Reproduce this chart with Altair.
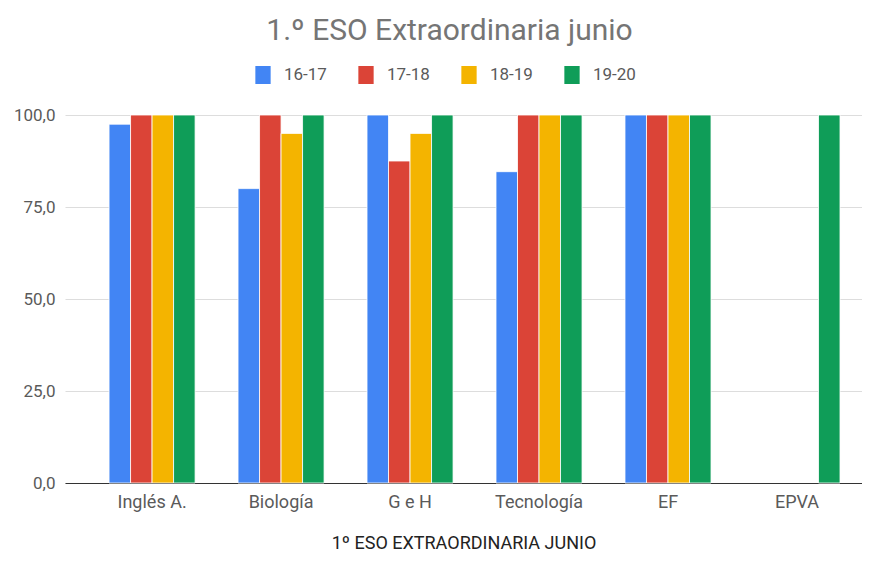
import altair as alt
import pandas as pd

categories = ["Inglés A.", "Biología", "G e H", "Tecnología", "EF", "EPVA"]
series = ["16-17", "17-18", "18-19", "19-20"]
v_16_17 = [97.5, 80.0, 100.0, 84.6, 100.0, None]
v_17_18 = [100.0, 100.0, 87.5, 100.0, 100.0, None]
v_18_19 = [100.0, 95.0, 95.0, 100.0, 100.0, None]
v_19_20 = [100.0, 100.0, 100.0, 100.0, 100.0, 100.0]
colors = ["#4285f4", "#db4437", "#f4b400", "#0f9d58"]

rows = []
for s, vals in zip(series, [v_16_17, v_17_18, v_18_19, v_19_20]):
    for c, v in zip(categories, vals):
        if v is not None:
            rows.append({"Asignatura": c, "Curso": s, "Valor": v})
df = pd.DataFrame(rows)

FONT = "Roboto"

chart = alt.Chart(df).mark_bar(stroke="white", strokeWidth=0.8).encode(
    x=alt.X("Asignatura:N", sort=categories,
            scale=alt.Scale(paddingInner=0.333, paddingOuter=0.256, align=0.667),
            axis=alt.Axis(title="1º ESO EXTRAORDINARIA JUNIO", labelAngle=0,
                          labelFontSize=18, labelColor="#5a5a5a", labelPadding=10,
                          titleFontSize=18, titleColor="#222222", titleFontWeight="normal",
                          titlePadding=23, ticks=False, domainColor="#333333",
                          domainWidth=1.2, grid=False)),
    xOffset=alt.XOffset("Curso:N", sort=series, scale=alt.Scale(paddingInner=0.0)),
    y=alt.Y("Valor:Q", scale=alt.Scale(domain=[0, 100], nice=False),
            axis=alt.Axis(title=None, values=[0, 25, 50, 75, 100],
                          labelExpr="replace(format(datum.value, '.1f'), '.', ',')",
                          labelFontSize=17, labelColor="#5a5a5a", labelPadding=10,
                          ticks=False, domain=False, gridColor="#dddddd", gridWidth=1)),
    color=alt.Color("Curso:N", sort=series,
                    scale=alt.Scale(domain=series, range=colors),
                    legend=alt.Legend(title=None, orient="none", direction="horizontal",
                                      legendX=189, legendY=-49,
                                      symbolType="M-0.85,-1H0.85V1H-0.85Z",
                                      symbolSize=324, symbolStrokeWidth=0,
                                      symbolOpacity=1,
                                      labelFontSize=17, labelColor="#5a5a5a",
                                      labelOffset=12, columnPadding=30)),
).properties(
    width=797, height=368,
    title=alt.TitleParams("1.º ESO Extraordinaria junio", fontSize=30, color="#757575",
                          font=FONT, fontWeight="normal", anchor="middle",
                          frame="group", dx=-14, offset=20),
    autosize=alt.AutoSizeParams(type="none"),
    padding={"left": 57, "top": 107, "right": 0, "bottom": 72},
).configure(font=FONT).configure_view(stroke=None)

chart.save("out.html", embed_options={"renderer": "svg", "actions": False})
